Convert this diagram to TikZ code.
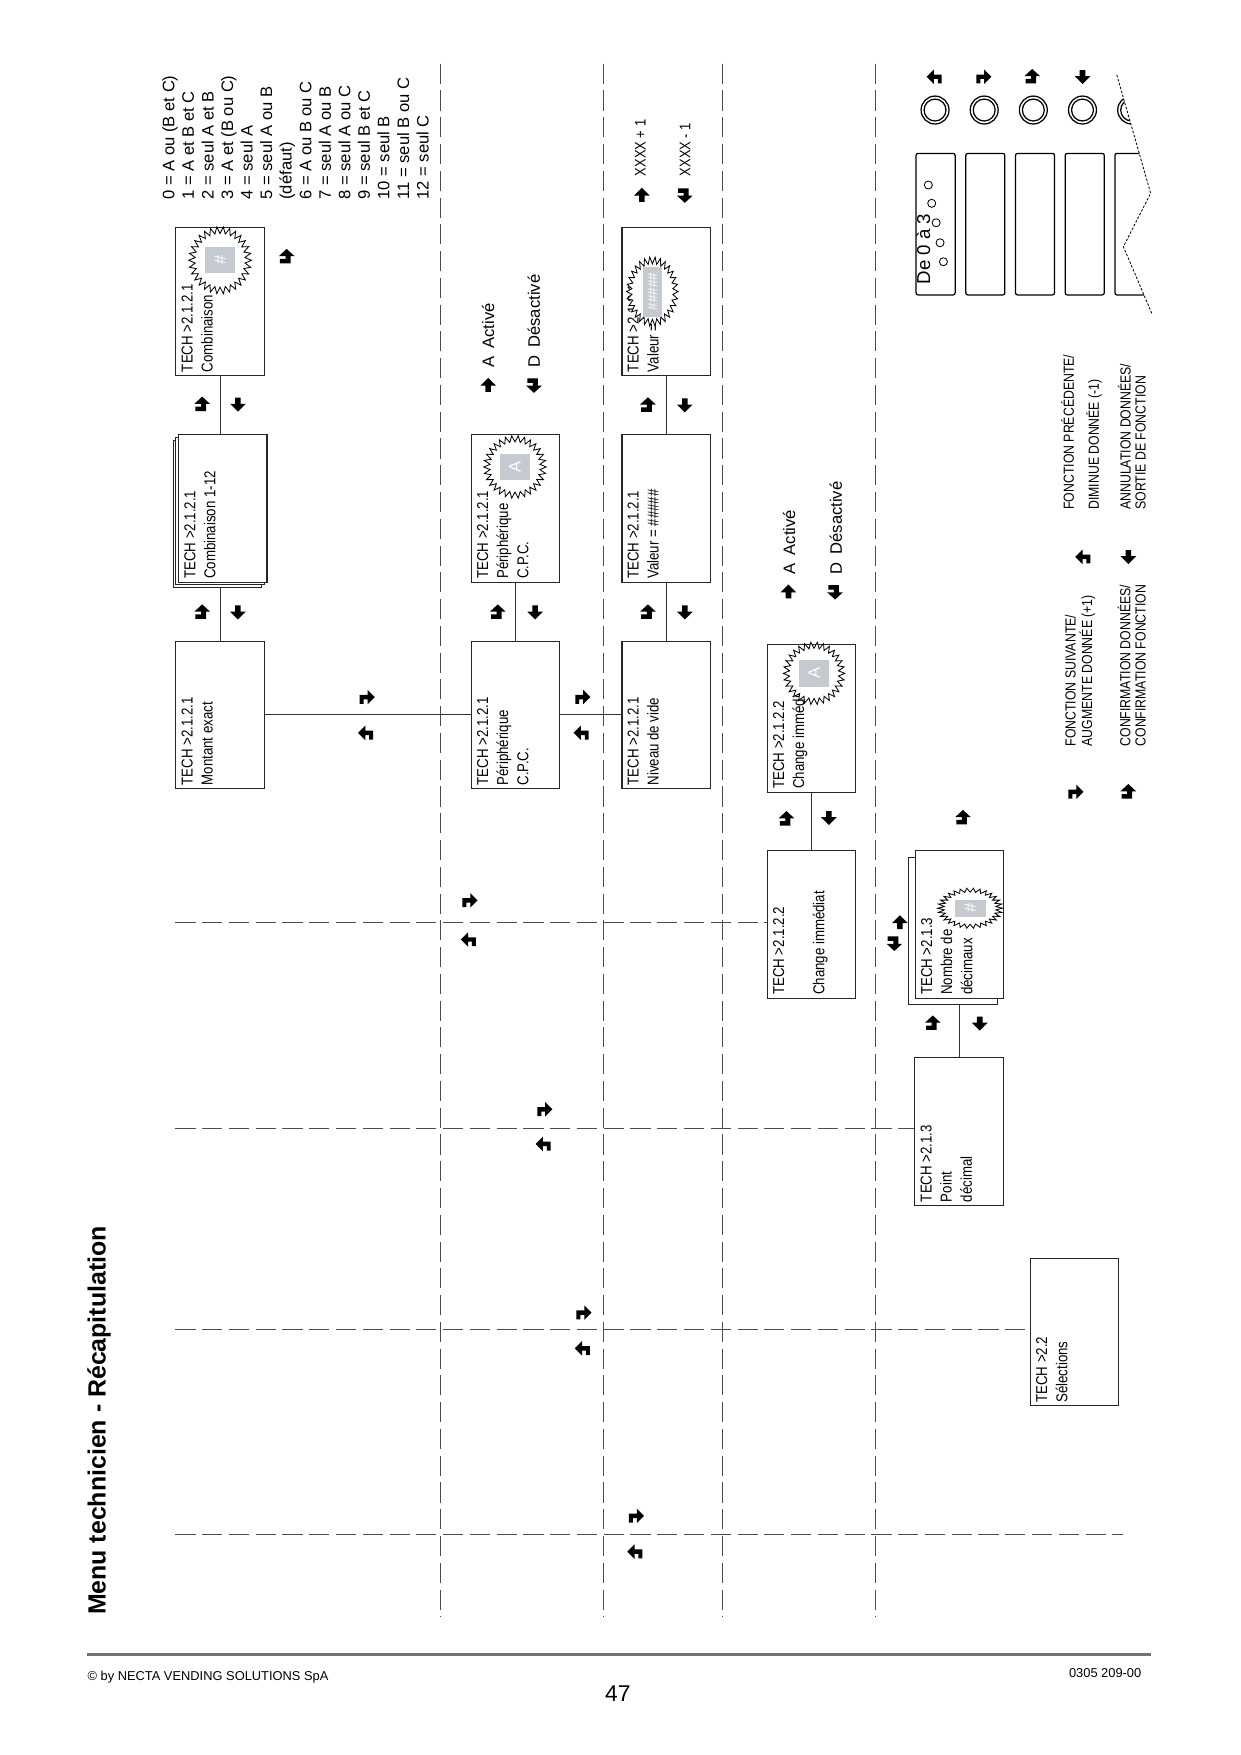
\documentclass[tikz,border=0pt]{standalone}
\usepackage{fontspec}
\setmainfont{Liberation Sans}
\newfontfamily\narrow[FakeStretch=0.84]{Liberation Sans}
\definecolor{lcdgray}{RGB}{197,202,208}
\newcommand{\boxfont}{\narrow\fontsize{7.6}{9.69}\selectfont}
\newcommand{\legfont}{\narrow\fontsize{7.05}{8}\selectfont}
\newcommand{\screen}[1]{\parbox[t][1.305cm][t]{2.384cm}{#1}}

\begin{document}
\begin{tikzpicture}[x=0.0189189cm, y=-0.0189189cm]
            \tikzstyle{menu}=[draw=black!85, line width=0.5pt, fill=white, rotate=90,
            inner xsep=0.057cm, inner ysep=0.095cm, font=\boxfont]
            \tikzstyle{sheet}=[draw=black!85, line width=0.5pt, fill=white, rotate=90,
            minimum width=2.497cm, minimum height=1.495cm, inner sep=0pt]
            \tikzstyle{divider}=[black!70, line width=0.5pt, dash pattern=on 9.7pt off 3.2pt]
            \tikzstyle{wire}=[black!80, line width=0.5pt]
            \tikzstyle{vtext}=[rotate=90, inner sep=0pt, anchor=base west]
            \tikzstyle{lcd}=[fill=lcdgray, rotate=90, text=white, inner sep=0pt,
            font=\fontsize{8}{9}\selectfont]
            \tikzset{
              pics/ok/.style={code={\fill (-6,6) -- (3.5,6) -- (3.5,-0.5) -- (7,-0.5) -- (0,-7)
                -- (-7,-0.5) -- (-1,-0.5) -- (-1,2) -- (-6,2) -- cycle;}},
              pics/dnk/.style={code={\fill (-6,-6) -- (3.5,-6) -- (3.5,0.5) -- (7,0.5) -- (0,7)
                -- (-7,0.5) -- (-1,0.5) -- (-1,-2) -- (-6,-2) -- cycle;}},
              pics/esc/.style={code={\fill (-2.5,-6) -- (2.5,-6) -- (2.5,-0.5) -- (7,-0.5)
                -- (0,6.5) -- (-7,-0.5) -- (-2.5,-0.5) -- cycle;}},
              pics/upa/.style={code={\fill (-2.5,6) -- (2.5,6) -- (2.5,0.5) -- (7,0.5)
                -- (0,-6.5) -- (-7,0.5) -- (-2.5,0.5) -- cycle;}},
              pics/nxt/.style={code={\fill (-6,6) -- (-6,-2) -- (1,-2) -- (1,-6.5) -- (7.5,0)
                -- (1,6.5) -- (1,2) -- (-2.5,2) -- (-2.5,6) -- cycle;}},
              pics/prv/.style={code={\fill (6,6) -- (6,-2) -- (-1,-2) -- (-1,-6.5) -- (-7.5,0)
                -- (-1,6.5) -- (-1,2) -- (2.5,2) -- (2.5,6) -- cycle;}},
              pics/burst/.style={code={\draw[fill=white, line width=0.4pt] (0:1)
                \foreach \a in {1,...,59} {-- (\a*6:{1-0.2*mod(\a,2)})} -- cycle;}}
            }
            \useasboundingbox (0,0) rectangle (1110,1571);

            \foreach \x in {394,540,647,784}
            \draw[divider] (\x,57) -- (\x,1447);

            \node[menu] (b1) at (197,640) {\screen{TECH >2.1.2.1\\Montant exact}};
            \foreach \d/\n in {5/c, 2.5/b}
            \node[sheet] (b2\n) at ({199.5-\d},{455+\d}) {};
            \node[menu] (b2) at (199.5,455) {\screen{TECH >2.1.2.1\\Combinaison 1-12}};
            \node[menu] (b3) at (197,270) {\screen{TECH >2.1.2.1\\Combinaison}};
            \node[menu] (b4) at (461.5,640) {\screen{TECH >2.1.2.1\\Périphérique\\C.P.C.}};
            \node[menu] (b5) at (461.5,455) {\screen{TECH >2.1.2.1\\Périphérique\\C.P.C.}};
            \node[menu] (b6) at (596.3,640) {\screen{TECH >2.1.2.1\\Niveau de vide}};
            \node[menu] (b7) at (596.3,455) {\screen{TECH >2.1.2.1\\Valeur = \#\#\#\#\#}};
            \node[menu] (b8) at (596.3,270) {\screen{TECH >2.1.2.1\\Valeur = \#\#\#\#\#}};
            \node[menu] (b9) at (726.5,643) {\screen{TECH >2.1.2.2\\Change immédiat}};
            \node[menu] (b10) at (726.5,827.5) {\screen{TECH >2.1.2.2\\[9.69pt]Change immédiat}};
            \node[sheet] (b11s) at (853,833.5) {};
            \node[menu] (b11) at (859,827.5) {\screen{TECH >2.1.3\\Nombre de\\décimaux}};
            \node[menu] (b12) at (858.5,1013) {\screen{TECH >2.1.3\\Point\\décimal}};
            \node[menu] (b13) at (962,1192.5) {\screen{TECH >2.2\\Sélections}};

            \coordinate (h1) at (157,826);
            \coordinate (h2) at (157,1010);
            \coordinate (h3) at (157,1190);
            \coordinate (h4) at (157,1374);
            \draw[divider] (h1) -- (h1 -| b10.north);
            \draw[divider] (h2) -- (h2 -| b12.north);
            \draw[divider] (h3) -- (h3 -| b13.north);
            \draw[divider] (h4) -- (1005,1374);

            \draw[wire] (b1.east) -- (b1.east |- b2c.west);
            \draw[wire] (b3.west) -- (b3.west |- b2.east);
            \draw[wire] (b1.south) -- (b4.north);
            \draw[wire] (b4.east) -- (b5.west);
            \draw[wire] (b4.south) -- (b6.north);
            \draw[wire] (b6.east) -- (b7.west);
            \draw[wire] (b7.east) -- (b8.west);
            \draw[wire] (b9.west) -- (b10.east);
            \draw[wire] (b12.east |- b11s.west) -- (b12.east);

            \pic[xscale=28, yscale=30] at (197,233) {burst};
            \node[lcd, minimum width=0.441cm, minimum height=0.52cm] (g3) at (197,233) {\#};
            \pic[scale=28] at (461,418) {burst};
            \node[lcd, minimum width=0.454cm, minimum height=0.52cm] (g5) at (461,418) {A};
            \pic[xscale=23, yscale=31] at (584,261) {burst};
            \node[lcd, minimum width=0.848cm, minimum height=0.327cm,
            font=\fontsize{6.5}{7}\selectfont] (g8) at (584,261) {\#\#\#\#\#};
            \pic[xscale=27.5, yscale=28] at (728.7,602.8) {burst};
            \node[lcd, minimum width=0.454cm, minimum height=0.511cm] (g9) at (728.7,602.8) {A};
            \pic[xscale=29, yscale=18] at (868.4,813) {burst};
            \node[lcd, minimum width=0.293cm, minimum height=0.524cm] (g11) at (868.4,813) {\#};

            \foreach \x/\y in {181/548, 181/362, 445.6/548, 580/548, 580/362.6, 704/733,
            835/916, 256.6/229.8, 862/732, 924/68.7, 1010/708.8}
            \pic at (\x,\y) {ok};
            \foreach \x/\y in {213/548, 213/362, 479/548, 613/548, 613/362.6, 742/732,
            877/916, 969/68.7, 1010/498.4}
            \pic at (\x,\y) {esc};
            \foreach \x/\y in {328/624, 521/624, 420/806, 487/993, 522/1175, 569/1357,
            880/68.7, 962.4/708.8}
            \pic at (\x,\y) {nxt};
            \foreach \x/\y in {328/656, 521/656, 420/841, 487/1024, 522/1207, 569/1389,
            837/68.7, 970/498.4}
            \pic at (\x,\y) {prv};
            \foreach \x/\y in {437/344.7, 705.8/529.7, 574.5/174.6, 805.5/825.8}
            \pic at (\x,\y) {upa};
            \foreach \x/\y in {478/344.7, 747.5/529.7, 613/174.6, 800.6/844.3}
            \pic at (\x,\y) {dnk};

            \node[vtext, anchor=north west, align=left, font=\fontsize{8}{9.42}\selectfont]
            (combos) at (145,179) {0 = A ou (B et C)\\1 = A et B et C\\2 = seul A et B\\
            3 = A et (B ou C)\\4 = seul A\\5 = seul A ou B\\(défaut)\\6 = A ou B ou C\\
            7 = seul A ou B\\8 = seul A ou C\\9 = seul B et C\\10 = seul B\\
            11 = seul B ou C\\12 = seul C};

            \node[vtext, font=\fontsize{8}{9}\selectfont] (act1) at (442.3,329.7) {A\enspace Activé};
            \node[vtext, font=\fontsize{8}{9}\selectfont] (des1) at (483.3,329.7) {D\enspace Désactivé};
            \node[vtext, font=\fontsize{8}{9}\selectfont] (act2) at (711.8,514.8) {A\enspace Activé};
            \node[vtext, font=\fontsize{8}{9}\selectfont] (des2) at (753.5,514.8) {D\enspace Désactivé};
            \node[vtext, font=\narrow\fontsize{7.4}{9}\selectfont] (inc) at (578,158) {XXXX + 1};
            \node[vtext, font=\narrow\fontsize{7.4}{9}\selectfont] (dec) at (618,158) {XXXX - 1};

            \foreach \i in {0,...,3} {
              \draw[line width=0.6pt, rounded corners=1pt] ({820+44.5*\i},137.3) rectangle ++(35,126.7);
              \draw[line width=0.6pt] ({837+44*\i},98.5) circle (12.5) circle (9.8);
            }
            \begin{scope}
              \clip (800,40) -- (992,40) -- (999.7,67) -- (1030,173) -- (1005.6,220.8)
              -- (1031,280.5) -- (1040,310) -- (800,310) -- cycle;
              \draw[line width=0.6pt, rounded corners=1pt] (998,137.3) rectangle ++(35,126.7);
              \draw[line width=0.6pt] (1013,98.5) circle (12.5) circle (9.8);
            \end{scope}
            \draw[line width=0.4pt, dash pattern=on 1.2pt off 0.8pt]
            (999.7,67) -- (1030,173) -- (1005.6,220.8) -- (1031,280.5);
            \foreach \x/\y in {831/165.6, 834/182, 838/199.4, 841.5/217.3, 844.5/234.3}
            \draw[line width=0.4pt] (\x,\y) circle (3.6);
            \node[vtext, font=\fontsize{9}{10}\selectfont] (range) at (832.6,255) {De 0 à 3};

            \node[vtext, font=\legfont] (lg1) at (962.8,668.5) {FONCTION SUIVANTE/};
            \node[vtext, font=\legfont] (lg2) at (977.7,668.5) {AUGMENTE DONNÉE (+1)};
            \node[vtext, font=\legfont] (lg3) at (1011.8,668.5) {CONFIRMATION DONNÉES/};
            \node[vtext, font=\legfont] (lg4) at (1025.4,668.5) {CONFIRMATION FONCTION};
            \node[vtext, font=\legfont] (lg5) at (961.2,456.6) {FONCTION PRÉCÉDENTE/};
            \node[vtext, font=\legfont] (lg6) at (983.6,456.6) {DIMINUE DONNÉE (-1)};
            \node[vtext, font=\legfont] (lg7) at (1012,456.6) {ANNULATION DONNÉES/};
            \node[vtext, font=\legfont] (lg8) at (1025.4,456.6) {SORTIE DE FONCTION};

            \node[vtext, font=\fontsize{12}{15}\selectfont\bfseries] (title) at (94.6,1446)
            {Menu technicien - Récapitulation};

            \draw[black!55, line width=1pt] (78,1481) -- (1030,1481);
            \node[anchor=base west, inner sep=0pt, font=\fontsize{6.2}{7}\selectfont] (copy)
            at (78,1504) {© by NECTA VENDING SOLUTIONS SpA};
            \node[anchor=base east, inner sep=0pt, font=\fontsize{6.2}{7}\selectfont] (ref)
            at (1022,1502) {0305 209-00};
            \node[anchor=base, inner sep=0pt, font=\fontsize{11}{13}\selectfont] (page)
            at (553,1523) {47};
        \end{tikzpicture}
\end{document}
